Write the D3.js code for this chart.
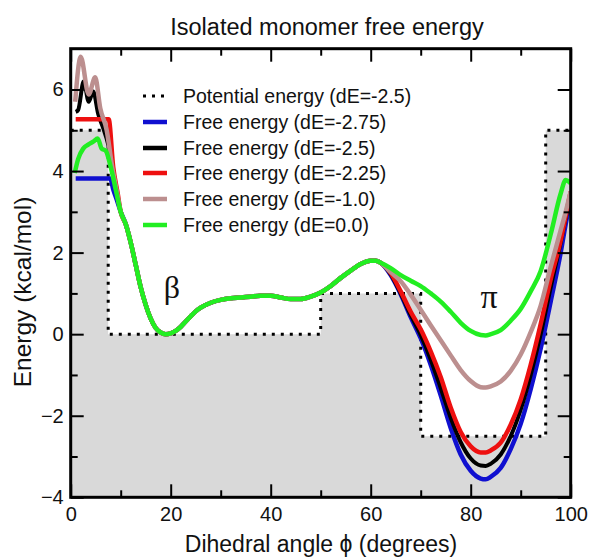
<!DOCTYPE html>
<html><head><meta charset="utf-8">
<script src="https://cdn.jsdelivr.net/npm/d3@7"></script>
<style>body{margin:0;background:#fff;} svg{display:block;}</style>
</head><body>
<svg id="c" width="590" height="558"></svg>
<script>
// ---- data ----
const potX = [0, 7.5, 50, 70, 95, 100];
const potY = [5, 0, 1, -2.5, 5, 5];

// shared middle part (deg 10..62)
const midX = [10, 11, 12, 13, 14, 15, 16, 17, 18, 19, 20, 21, 22, 23, 24, 25, 26, 28, 30, 32, 34, 36, 38, 40, 42, 44, 46, 48, 50, 52, 54, 56, 58, 60, 61, 62];
const midY = [3.0, 2.7, 2.25, 1.7, 1.15, 0.72, 0.38, 0.15, 0.04, 0.0, 0.02, 0.08, 0.18, 0.31, 0.44, 0.56, 0.65, 0.77, 0.84, 0.88, 0.9, 0.92, 0.94, 0.94, 0.9, 0.86, 0.86, 0.92, 1.02, 1.18, 1.38, 1.56, 1.72, 1.8, 1.8, 1.75];

const blueLX = [1, 2, 3, 4, 5, 6, 7, 7.9, 8.5, 9.2];
const blueLY = [3.82, 3.82, 3.82, 3.82, 3.82, 3.82, 3.82, 3.82, 3.55, 3.3];
const blackLX = [1, 1.5, 2.6, 3.6, 4.5, 5.5, 6.5, 7.5, 8.5, 9.3];
const blackLY = [5.45, 5.5, 6.2, 5.7, 5.95, 5.4, 5.05, 4.65, 4.0, 3.45];
const redLX = [1, 2, 3, 4, 5, 6, 7, 7.6, 8.5, 9.4];
const redLY = [5.27, 5.27, 5.27, 5.27, 5.27, 5.27, 5.27, 5.27, 4.1, 3.45];
const rosyLX = [0.9, 2.0, 3.6, 4.9, 5.9, 7.2, 8.3, 9.3];
const rosyLY = [5.7, 6.8, 5.88, 6.3, 5.55, 5.0, 4.1, 3.45];
const greenLX = [0.8, 1.5, 2.5, 3.5, 4.5, 5.4, 6.2, 7.0, 8.0, 9.0];
const greenLY = [3.95, 4.3, 4.55, 4.65, 4.72, 4.8, 4.55, 4.5, 4.1, 3.55];

const rightX = [64, 66, 68, 70, 72, 74, 76, 78, 80, 82, 83, 84, 86, 88, 90, 92, 94, 96, 98, 99, 100];
const blueRY  = [1.45, 0.98, 0.42, -0.1, -0.75, -1.5, -2.3, -2.95, -3.35, -3.54, -3.56, -3.5, -3.28, -2.82, -2.2, -1.35, -0.35, 0.8, 2.0, 2.7, 3.3];
const blackRY = [1.47, 1.0, 0.47, -0.02, -0.62, -1.32, -2.05, -2.65, -3.05, -3.22, -3.23, -3.18, -2.95, -2.5, -1.85, -1.0, 0.0, 1.15, 2.25, 2.85, 3.4];
const redRY   = [1.5, 1.05, 0.55, 0.12, -0.42, -1.05, -1.8, -2.4, -2.75, -2.9, -2.9, -2.85, -2.66, -2.22, -1.6, -0.75, 0.25, 1.35, 2.3, 2.9, 3.5];
const rosyRY  = [1.52, 1.3, 0.97, 0.6, 0.22, -0.15, -0.52, -0.88, -1.15, -1.3, -1.31, -1.28, -1.16, -0.9, -0.5, 0.05, 0.7, 1.65, 2.55, 3.0, 3.5];
const greenRY = [1.62, 1.45, 1.31, 1.18, 1.0, 0.8, 0.55, 0.28, 0.08, -0.02, -0.03, 0.0, 0.1, 0.33, 0.62, 1.05, 1.55, 2.45, 3.45, 3.78, 3.7];

const seriesNames = ["Free energy (dE=-2.75)", "Free energy (dE=-2.5)", "Free energy (dE=-2.25)", "Free energy (dE=-1.0)", "Free energy (dE=0.0)"];
const seriesColors = ["#1010d0", "#000000", "#ee1010", "#bc8f8f", "#22ee22"];
const potName = "Potential energy (dE=-2.5)";
const xTicks = [0, 20, 40, 60, 80, 100];
const yTicks = [-4, -2, 0, 2, 4, 6];
const titleText = "Isolated monomer free energy";
const xLabel = "Dihedral angle \u03d5 (degrees)";
const yLabel = "Energy (kcal/mol)";

// ---- build series ----
function join(lx, ly, rx, ry) {
  const pts = [];
  lx.forEach((x, i) => pts.push([x, ly[i]]));
  midX.forEach((x, i) => pts.push([x, midY[i]]));
  rx.forEach((x, i) => pts.push([x, ry[i]]));
  return pts;
}
const series = [
  join(blueLX, blueLY, rightX, blueRY),
  join(blackLX, blackLY, rightX, blackRY),
  join(redLX, redLY, rightX, redRY),
  join(rosyLX, rosyLY, rightX, rosyRY),
  join(greenLX, greenLY, rightX, greenRY)
];

// ---- layout ----
const L = 70.7, R = 570.7, T = 48.7, B = 497.3;
const svg = d3.select("#c");
const x = d3.scaleLinear().domain([0, 100]).range([L, R]);
const y = d3.scaleLinear().domain([-4, 7]).range([B, T]);

svg.append("defs").append("clipPath").attr("id", "clip")
  .append("rect").attr("x", L).attr("y", T).attr("width", R - L).attr("height", B - T);

const potPts = potX.map((v, i) => [v, potY[i]]);
// gray fill
svg.append("path")
  .attr("d", d3.area().x(d => x(d[0])).y0(y(-4)).y1(d => y(d[1])).curve(d3.curveStepAfter)(potPts))
  .attr("fill", "#d9d9d9");

const g = svg.append("g").attr("clip-path", "url(#clip)");
// potential dotted
g.append("path")
  .attr("d", d3.line().x(d => x(d[0])).y(d => y(d[1])).curve(d3.curveStepAfter)(potPts))
  .attr("fill", "none").attr("stroke", "#000").attr("stroke-width", 3)
  .attr("stroke-dasharray", "3,6");

const line = d3.line().x(d => x(d[0])).y(d => y(d[1])).curve(d3.curveMonotoneX);
series.forEach((s, i) => {
  g.append("path").attr("d", line(s)).attr("fill", "none")
    .attr("stroke", seriesColors[i]).attr("stroke-width", i === 1 ? 4 : 4.5)
    .attr("stroke-linejoin", "round");
});

// axes (ticks inward on all sides)
const fontTick = "Liberation Sans, Arial, sans-serif";
function ticks(axisGen, tx, ty, vals, size) {
  const a = svg.append("g").attr("transform", `translate(${tx},${ty})`)
    .call(axisGen.tickValues(vals).tickSize(size).tickFormat(""));
  a.select(".domain").remove();
  a.selectAll("line").attr("stroke", "#000").attr("stroke-width", 2);
  return a;
}
const xMinor = d3.range(10, 100, 20);
const yMinor = [-3, -1, 1, 3, 5];
ticks(d3.axisTop(x), 0, B, xTicks, 13);
ticks(d3.axisTop(x), 0, B, xMinor, 7);
ticks(d3.axisBottom(x), 0, T, xTicks, 13);
ticks(d3.axisBottom(x), 0, T, xMinor, 7);
ticks(d3.axisRight(y), L, 0, yTicks, 13);
ticks(d3.axisRight(y), L, 0, yMinor, 7);
ticks(d3.axisLeft(y), R, 0, yTicks, 13);
ticks(d3.axisLeft(y), R, 0, yMinor, 7);

// tick labels
const xl = svg.append("g").attr("transform", `translate(0,${B})`)
  .call(d3.axisBottom(x).tickValues(xTicks).tickSize(0).tickPadding(24).tickFormat(d3.format("d")));
xl.select(".domain").remove();
xl.selectAll("text").attr("font-family", fontTick).attr("font-size", 20).attr("fill", "#111").attr("dy", 0);
const yl = svg.append("g").attr("transform", `translate(${L},0)`)
  .call(d3.axisLeft(y).tickValues(yTicks).tickSize(0).tickPadding(7).tickFormat(d3.format("d")));
yl.select(".domain").remove();
yl.selectAll("text").attr("font-family", fontTick).attr("font-size", 20).attr("fill", "#111");

// frame
svg.append("rect").attr("x", L).attr("y", T).attr("width", R - L).attr("height", B - T)
  .attr("fill", "none").attr("stroke", "#000").attr("stroke-width", 3);

// titles
svg.append("text").attr("x", 327).attr("y", 35).attr("text-anchor", "middle")
  .attr("font-family", fontTick).attr("font-size", 23.5).attr("fill", "#111").text(titleText);
svg.append("text").attr("x", 321).attr("y", 552).attr("text-anchor", "middle")
  .attr("font-family", fontTick).attr("font-size", 23).attr("fill", "#111").text(xLabel);
svg.append("text").attr("transform", "translate(31,292) rotate(-90)").attr("text-anchor", "middle")
  .attr("font-family", fontTick).attr("font-size", 24.5).attr("fill", "#111").text(yLabel);

// greek labels
svg.append("text").attr("x", 172).attr("y", 298).attr("text-anchor", "middle")
  .attr("font-family", "Liberation Serif, Times New Roman, serif").attr("font-size", 32).attr("fill", "#111").text("\u03b2");
svg.append("text").attr("x", 489).attr("y", 308).attr("text-anchor", "middle")
  .attr("font-family", "Liberation Serif, Times New Roman, serif").attr("font-size", 34).attr("fill", "#111").text("\u03c0");

// legend
const legY = [96, 122, 148, 173, 199, 225];
const leg = svg.append("g");
leg.append("line").attr("x1", 143).attr("x2", 167).attr("y1", legY[0]).attr("y2", legY[0])
  .attr("stroke", "#000").attr("stroke-width", 3).attr("stroke-dasharray", "3,6");
leg.append("text").attr("x", 183).attr("y", legY[0]).attr("dy", "0.35em")
  .attr("font-family", fontTick).attr("font-size", 19.5).attr("fill", "#111").text(potName);
seriesNames.forEach((n, i) => {
  const yy = legY[i + 1];
  leg.append("line").attr("x1", 143).attr("x2", 167).attr("y1", yy).attr("y2", yy)
    .attr("stroke", seriesColors[i]).attr("stroke-width", 4.5);
  leg.append("text").attr("x", 183).attr("y", yy).attr("dy", "0.35em")
    .attr("font-family", fontTick).attr("font-size", 19.5).attr("fill", "#111").text(n);
});
</script>
</body></html>
